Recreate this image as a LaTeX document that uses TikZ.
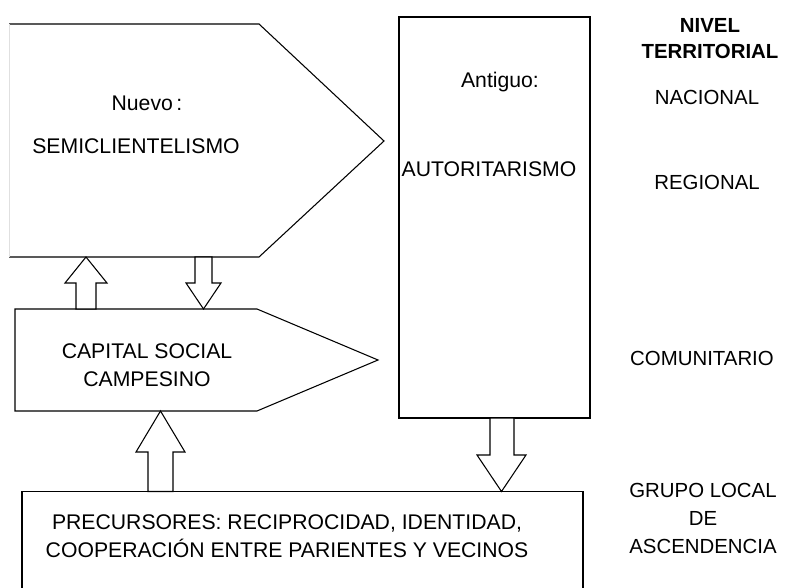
\documentclass[tikz,border=0pt]{standalone}
\usepackage{fontspec}
\setmainfont{Liberation Sans}
\begin{document}
\begin{tikzpicture}[x=0.75pt,y=-0.75pt,
  shapeline/.style={draw=black,line width=0.8pt,line join=miter},
  blockarrow/.style={draw=black,line width=0.8pt,fill=white,line join=miter},
  lbl/.style={inner sep=0pt,align=center,font=\fontsize{15.9}{21}\selectfont},
  lvl/.style={inner sep=0pt,align=center,font=\fontsize{15.3}{21}\selectfont}]
\useasboundingbox (0,0) rectangle (789,588);
\fill[white] (0,0) rectangle (789,588);
% top pentagon (Nuevo)
\coordinate (n1) at (9,24); \coordinate (n2) at (259,24); \coordinate (ntip) at (384,141);
\coordinate (n4) at (259,257); \coordinate (n5) at (9,257);
\draw[shapeline] (n5) -- (n4) -- (ntip) -- (n2) -- (n1);
\draw[black!12,line width=0.6pt] (n1) -- (n5);
% Antiguo rectangle
\coordinate (a1) at (399,17); \coordinate (a2) at (590,418);
\draw[shapeline] (a1) rectangle (a2);
% Capital pentagon
\coordinate (c1) at (15,309); \coordinate (c2) at (257,309); \coordinate (ctip) at (378,360);
\coordinate (c4) at (257,411); \coordinate (c5) at (15,411);
\draw[shapeline] (c1) -- (c2) -- (ctip) -- (c4) -- (c5) -- cycle;
% Precursores box
\coordinate (p1) at (22,592); \coordinate (p2) at (22,491.5); \coordinate (p3) at (583,491.5); \coordinate (p4) at (583,592);
\draw[shapeline] (p1) -- (p2) -- (p3) -- (p4);
% block arrows
% A: up from capital to nuevo
\draw[blockarrow] (76,309) -- (76,283) -- (65,283) -- (86,257) -- (107,283) -- (96,283) -- (96,309) -- cycle;
% B: down from nuevo to capital
\draw[blockarrow] (195,257) -- (195,283) -- (186,283) -- (203.5,309) -- (221,283) -- (212,283) -- (212,257) -- cycle;
% C: up from precursores to capital
\draw[blockarrow] (148,491.5) -- (148,452) -- (136,452) -- (160.5,411) -- (185,452) -- (173,452) -- (173,491.5) -- cycle;
% D: down from antiguo to precursores
\draw[blockarrow] (490,418) -- (490,455) -- (477,455) -- (501.5,491.5) -- (526,455) -- (514,455) -- (514,418) -- cycle;
% texts
\node[lbl] (tnuevo) at (147,103) {Nuevo\,:};
\node[lbl] (tsemi) at (136,146) {SEMICLIENTELISMO};
\node[lbl] (tantiguo) at (500,82) {Antiguo:};
\node[lbl] (tauto) at (489,169) {AUTORITARISMO};
\node[lbl] (tcapital) at (147,365) {CAPITAL SOCIAL\\CAMPESINO};
\node[lbl] (tprec) at (287,536) {PRECURSORES: RECIPROCIDAD, IDENTIDAD,\\COOPERACIÓN ENTRE PARIENTES Y VECINOS};
% levels
\node[lvl,font=\fontsize{15.3}{20}\selectfont\bfseries] (tnivel) at (710,38.5) {NIVEL\\TERRITORIAL};
\node[lvl] (tnac) at (707,97) {NACIONAL};
\node[lvl] (treg) at (707,182) {REGIONAL};
\node[lvl] (tcom) at (702,358) {COMUNITARIO};
\node[lvl] (tgrupo) at (703,518.5) {GRUPO LOCAL\\DE\\ASCENDENCIA};
\end{tikzpicture}
\end{document}
